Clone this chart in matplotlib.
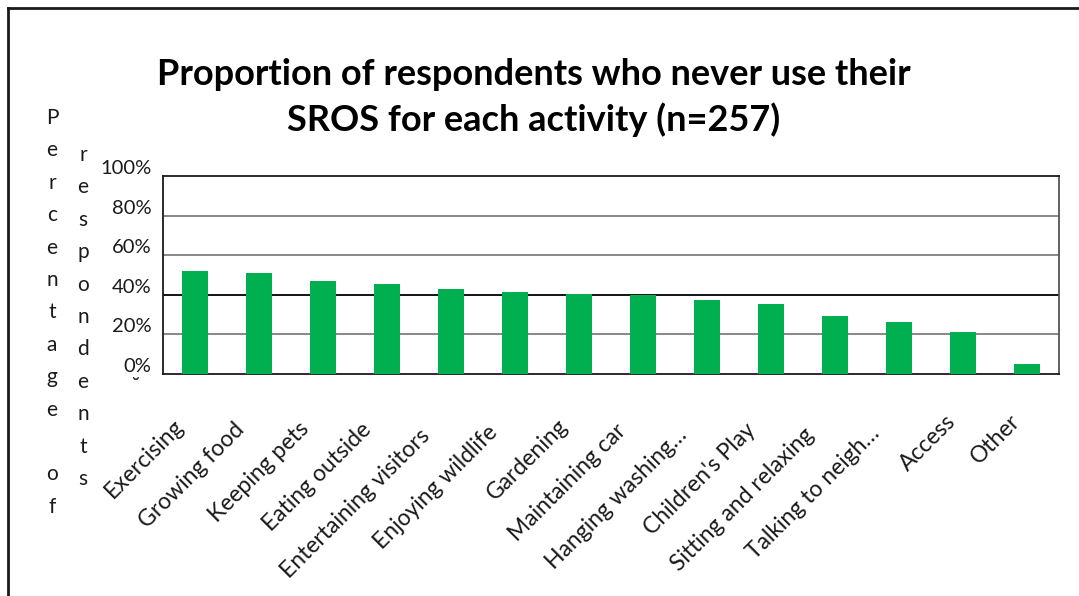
import numpy as np
import matplotlib
matplotlib.use("Agg")
import matplotlib.pyplot as plt
from matplotlib.transforms import ScaledTranslation, blended_transform_factory
from matplotlib.lines import Line2D

plt.rcParams['font.family'] = ['Lato', 'DejaVu Sans']

# Activities and share of respondents who never use their SROS for each
activities = [
    "Exercising", "Growing food", "Keeping pets", "Eating outside",
    "Entertaining visitors", "Enjoying wildlife", "Gardening",
    "Maintaining car", "Hanging washing\u2026", "Children's Play",
    "Sitting and relaxing", "Talking to neigh\u2026", "Access", "Other",
]
never_share = [0.52, 0.51, 0.47, 0.455, 0.43, 0.415, 0.405,
               0.40, 0.375, 0.355, 0.293, 0.263, 0.212, 0.05]
y_ticks = [0.0, 0.2, 0.4, 0.6, 0.8, 1.0]
y_tick_labels = ["0%", "20%", "40%", "60%", "80%", "100%"]
title_lines = ["Proportion of respondents who never use their",
               "SROS for each activity (n=257)"]
ylabel_left = "Percentage of"
ylabel_right = "respondents"

W, H, DPI = 1079, 596, 100
fig = plt.figure(figsize=(W / DPI, H / DPI), dpi=DPI)
fig.patch.set_facecolor("white")

# chart frame (left and top edges)
fig.add_artist(Line2D([7.5 / W, 7.5 / W], [0, 1 - 8 / H], transform=fig.transFigure,
                      color="#1a1a1a", lw=2))
fig.add_artist(Line2D([7.5 / W, 1], [1 - 8 / H, 1 - 8 / H], transform=fig.transFigure,
                      color="#1a1a1a", lw=2))

ax = fig.add_axes([163 / W, 1 - 374 / H, 896 / W, 198 / H])
x = list(range(len(activities)))
ax.bar(x, never_share, width=0.42, color="#00B050", zorder=3)
ax.set_xlim(-0.5, len(activities) - 0.5)
ax.set_ylim(0, 1.0)

# horizontal gridlines
for v in y_ticks[1:-1]:
    ax.axhline(v, color="#000000" if abs(v - 0.4) < 1e-9 else "#7f7f7f",
               lw=1.3, zorder=1)

for side in ["left", "top", "bottom"]:
    ax.spines[side].set_color("#1a1a1a")
    ax.spines[side].set_linewidth(1.3)
ax.spines["right"].set_color("#555555")
ax.spines["right"].set_linewidth(1.3)

ax.set_yticks(y_ticks)
ax.set_yticklabels(y_tick_labels, fontsize=14.5, color="#1a1a1a")
ax.tick_params(axis="y", length=0, pad=8.5)
for lab in ax.get_yticklabels():
    lab.set_transform(lab.get_transform() + ScaledTranslation(0, 9 / DPI, fig.dpi_scale_trans))
ax.set_xticks(x)
ax.set_xticklabels([])
ax.tick_params(axis="x", length=0)

# rotated category labels: longer labels sit a little further down their own slant
renderer = fig.canvas.get_renderer()
xt = blended_transform_factory(ax.transData, ax.transAxes)
c45 = np.sqrt(0.5)
for xi, name in zip(x, activities):
    t = ax.text(xi, 0, name, transform=xt, rotation=0, rotation_mode="anchor",
                ha="right", va="center", fontsize=16.5, color="#1a1a1a")
    w = t.get_window_extent(renderer).width
    along = 44 + 0.15 * (w - 100)
    perp = 24
    dx = (-along + perp) * c45
    dy = (along + perp) * c45
    t.set_transform(xt + ScaledTranslation(dx / DPI, -dy / DPI, fig.dpi_scale_trans))
    t.set_rotation(45)

# title
fig.text(533.5 / W, 1 - 85 / H, title_lines[0], ha="center", va="baseline",
         fontsize=26, fontweight="bold", color="#000000")
fig.text(533.5 / W, 1 - 131 / H, title_lines[1], ha="center", va="baseline",
         fontsize=26, fontweight="bold", color="#000000")

# stacked y-axis title, wrapped into two columns
row = 32.4
for i, ch in enumerate(ylabel_left):
    fig.text(52 / W, 1 - (118 + i * row) / H, ch, ha="center", va="center",
             fontsize=15, color="#1a1a1a")
for i, ch in enumerate(ylabel_right):
    fig.text(83 / W, 1 - (155 + i * row) / H, ch, ha="center", va="center",
             fontsize=15, color="#1a1a1a")

fig.text(136 / W, 1 - 387 / H, "\u02d8", ha="center", va="center",
         fontsize=14, color="#1a1a1a", family="DejaVu Sans")

fig.savefig("out.png", dpi=DPI)
